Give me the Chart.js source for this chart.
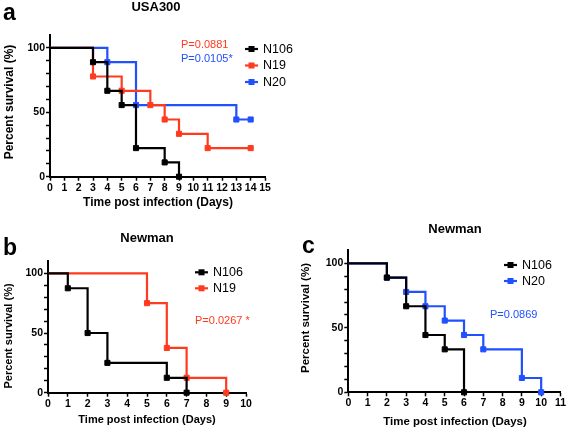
<!DOCTYPE html>
<html>
<head>
<meta charset="utf-8">
<script src="https://cdn.jsdelivr.net/npm/chart.js@4.4.0/dist/chart.umd.min.js"></script>
<style>
  body { margin: 0; background: #fff; }
  #page { position: relative; width: 567px; height: 430px; overflow: hidden; }
  .panel { position: absolute; }
</style>
</head>
<body>
<div id="page">
  <canvas id="panel-a" class="panel" width="310" height="215" style="left:0;top:0"></canvas>
  <canvas id="panel-b" class="panel" width="285" height="215" style="left:0;top:215px"></canvas>
  <canvas id="panel-c" class="panel" width="282" height="215" style="left:285px;top:215px"></canvas>
</div>
<script>
//DATA - panel a (USA300)
const usaN106Days = [0, 3, 4, 5, 6, 8, 9];
const usaN106Surv = [100, 88.9, 66.7, 55.6, 22.2, 11.1, 0];
const usaN19Days = [0, 3, 5, 7, 8, 9, 11, 14];
const usaN19Surv = [100, 77.8, 66.7, 55.6, 44.4, 33.3, 22.2, 22.2];
const usaN20Days = [0, 4, 6, 13, 14];
const usaN20Surv = [100, 88.9, 55.6, 44.4, 44.4];

//DATA - panel b (Newman, N106 vs N19)
const newBN106Days = [0, 1, 2, 3, 6, 7];
const newBN106Surv = [100, 87.5, 50, 25, 12.5, 0];
const newBN19Days = [0, 5, 6, 7, 9];
const newBN19Surv = [100, 75, 37.5, 12.5, 0];

//DATA - panel c (Newman, N106 vs N20)
const newCN106Days = [0, 2, 3, 4, 5, 6];
const newCN106Surv = [100, 88.9, 66.7, 44.4, 33.3, 0];
const newCN20Days = [0, 2, 3, 4, 5, 6, 7, 9, 10];
const newCN20Surv = [100, 88.9, 77.8, 66.7, 55.6, 44.4, 33.3, 11.1, 0];

//TICKS
const yTickLabels = [0, 50, 100];
const xMaxA = 15, xMaxB = 10, xMaxC = 11;

const BLACK = '#000000';
const RED = '#ff3a1f';
const BLUE = '#2150ff';
const FONT = '"Liberation Sans", Arial, sans-serif';

function toPoints(days, surv) {
    return days.map((d, i) => ({ x: d, y: surv[i] }));
}

function series(label, days, surv, color) {
    return {
        label: label,
        data: toPoints(days, surv),
        borderColor: color,
        backgroundColor: color,
        borderWidth: 2.2,
        stepped: 'before',
        pointStyle: 'rect',
        pointRadius: (c) => c.dataIndex === 0 ? 0 : 3.6,
        pointBorderWidth: 1,
        clip: false
    };
}

//draws panel letter, title, axis titles, legend and p-values
const annotations = {
    id: 'annotations',
    afterDraw(chart, args, o) {
        const ctx = chart.ctx;
        ctx.save();
        ctx.fillStyle = BLACK;
        ctx.textBaseline = 'alphabetic';
        ctx.textAlign = 'left';
        ctx.font = 'bold 23px ' + FONT;
        ctx.fillText(o.letter.text, o.letter.x, o.letter.y);

        ctx.textBaseline = 'middle';
        ctx.textAlign = 'center';
        ctx.font = 'bold 13px ' + FONT;
        ctx.fillText(o.title.text, o.title.x, o.title.y);

        ctx.font = 'bold ' + o.axisFont + 'px ' + FONT;
        ctx.fillText('Time post infection (Days)', o.xTitle.x, o.xTitle.y);
        ctx.save();
        ctx.translate(o.yTitle.x, o.yTitle.y);
        ctx.rotate(-Math.PI / 2);
        ctx.fillText('Percent survival (%)', 0, 0);
        ctx.restore();

        //legend
        ctx.textAlign = 'left';
        ctx.font = '12.5px ' + FONT;
        chart.data.datasets.forEach((ds, i) => {
            const y = o.legend.y + i * o.legend.gap;
            ctx.strokeStyle = ds.borderColor;
            ctx.lineWidth = 2.2;
            ctx.beginPath();
            ctx.moveTo(o.legend.x, y);
            ctx.lineTo(o.legend.x + 13, y);
            ctx.stroke();
            ctx.fillStyle = ds.borderColor;
            ctx.fillRect(o.legend.x + 3.5, y - 3, 6, 6);
            ctx.fillStyle = BLACK;
            ctx.fillText(ds.label, o.legend.x + 18, y + 0.5);
        });

        //p values
        ctx.font = '11px ' + FONT;
        o.pValues.forEach(p => {
            ctx.fillStyle = p.color;
            ctx.fillText(p.text, p.x, p.y);
        });
        ctx.restore();
    }
};

function makePanel(canvasId, datasets, xMax, box, notes) {
    const canvas = document.getElementById(canvasId);
    return new Chart(canvas, {
        type: 'line',
        data: { datasets: datasets },
        plugins: [annotations],
        options: {
            responsive: false,
            animation: false,
            events: [],
            layout: { padding: { left: box.padLeft, top: box.top, right: box.right, bottom: 0 } },
            plugins: {
                legend: { display: false },
                tooltip: { enabled: false },
                annotations: notes
            },
            scales: {
                x: {
                    type: 'linear',
                    min: 0,
                    max: xMax,
                    afterFit: (s) => { s.height = box.xHeight; },
                    ticks: {
                        stepSize: 1,
                        autoSkip: false,
                        maxRotation: 0,
                        color: BLACK,
                        padding: 1,
                        font: { family: FONT, size: 10.5, weight: 'bold' }
                    },
                    grid: { drawOnChartArea: false, tickLength: 4, tickColor: BLACK, tickWidth: 1.5 },
                    border: { display: true, color: BLACK, width: 2 }
                },
                y: {
                    min: 0,
                    max: 110,
                    afterFit: (s) => { s.width = box.yWidth; },
                    afterBuildTicks: (s) => { s.ticks = s.ticks.filter(t => t.value <= 100); },
                    ticks: {
                        stepSize: 10,
                        autoSkip: false,
                        color: BLACK,
                        padding: 1,
                        font: { family: FONT, size: 10.5, weight: 'bold' },
                        callback: (v) => yTickLabels.includes(v) ? v : ''
                    },
                    grid: { drawOnChartArea: false, tickLength: 4, tickColor: BLACK, tickWidth: 1.5 },
                    border: { display: true, color: BLACK, width: 2 }
                }
            }
        }
    });
}

//PANEL A
makePanel('panel-a', [
    series('N106', usaN106Days, usaN106Surv, BLACK),
    series('N19', usaN19Days, usaN19Surv, RED),
    series('N20', usaN20Days, usaN20Surv, BLUE)
], xMaxA, { padLeft: 0, top: 35, right: 45, yWidth: 50, xHeight: 38.3 }, {
    letter: { text: 'a', x: 3, y: 20 },
    title: { text: 'USA300', x: 156, y: 7 },
    axisFont: 12,
    xTitle: { x: 158, y: 203 },
    yTitle: { x: 10, y: 102 },
    legend: { x: 245, y: 49, gap: 16.5 },
    pValues: [
        { text: 'P=0.0881', x: 181, y: 45, color: RED },
        { text: 'P=0.0105*', x: 181, y: 59, color: BLUE }
    ]
});

//PANEL B
makePanel('panel-b', [
    series('N106', newBN106Days, newBN106Surv, BLACK),
    series('N19', newBN19Days, newBN19Surv, RED)
], xMaxB, { padLeft: 0, top: 46.4, right: 39, yWidth: 48, xHeight: 37.3 }, {
    letter: { text: 'b', x: 3, y: 40 },
    title: { text: 'Newman', x: 147, y: 23 },
    axisFont: 11,
    xTitle: { x: 147, y: 205 },
    yTitle: { x: 8.5, y: 121 },
    legend: { x: 195, y: 57.3, gap: 16 },
    pValues: [
        { text: 'P=0.0267 *', x: 195, y: 105.7, color: RED }
    ]
});

//PANEL C
makePanel('panel-c', [
    series('N106', newCN106Days, newCN106Surv, BLACK),
    series('N20', newCN20Days, newCN20Surv, BLUE)
], xMaxC, { padLeft: 0, top: 35.4, right: 5.3, yWidth: 63.3, xHeight: 37.7 }, {
    letter: { text: 'c', x: 17, y: 38 },
    title: { text: 'Newman', x: 170, y: 14 },
    axisFont: 11.5,
    xTitle: { x: 170, y: 207 },
    yTitle: { x: 21, y: 103 },
    legend: { x: 219, y: 50, gap: 16 },
    pValues: [
        { text: 'P=0.0869', x: 205, y: 100, color: BLUE }
    ]
});
</script>
</body>
</html>
